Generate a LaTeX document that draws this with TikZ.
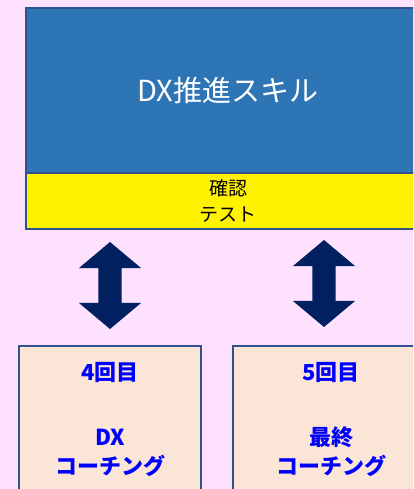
\documentclass[tikz,border=0pt]{standalone}
\usepackage{fontspec}
\setmainfont{Noto Sans CJK JP}
\usetikzlibrary{shapes.arrows}

\definecolor{bgpink}{HTML}{FDE1FE}
\definecolor{skillblue}{HTML}{2E75B6}
\definecolor{boxline}{HTML}{2F528F}
\definecolor{arrownavy}{HTML}{002060}
\definecolor{peach}{HTML}{FBE5D6}
\definecolor{titleblue}{HTML}{0000FF}

\begin{document}
\begin{tikzpicture}[x=1pt, y=-1pt,
    box/.style={draw=boxline, line width=2pt, inner sep=0pt},
    dblarrow/.style={double arrow, fill=arrownavy, draw=none, rotate=90,
        minimum height=87pt, minimum width=62pt,
        double arrow head extend=19.5pt, double arrow tip angle=100,
        inner xsep=0pt, inner ysep=11.5pt},
    session/.style={box, fill=peach, text=titleblue, align=center,
        font=\bfseries\fontsize{22}{29}\selectfont, minimum height=148pt}]

    \useasboundingbox (0,0) rectangle (413,489);
    \clip (0,0) rectangle (413,489);
    \fill[bgpink] (0,0) rectangle (413,489);

    % top block
    \node[box, fill=skillblue, text=white, font=\fontsize{29}{34}\selectfont,
          minimum width=404pt, minimum height=165pt] (skill) at (228,90.5) {DX推進スキル};
    \node[box, fill=yellow, align=center, font=\fontsize{19}{26}\selectfont,
          minimum width=404pt, minimum height=56pt] (test) at (228,201) {確認\\テスト};

    % arrows
    \node[dblarrow] (arrowA) at (110,285.5) {};
    \node[dblarrow] (arrowB) at (324,283.5) {};

    % sessions
    \node[session, minimum width=182pt] (fourth) at (110,420) {4回目\\[36pt]DX\\コーチング};
    \node[session, minimum width=196pt] (fifth) at (331,420) {5回目\\[36pt]最終\\コーチング};

\end{tikzpicture}
\end{document}
